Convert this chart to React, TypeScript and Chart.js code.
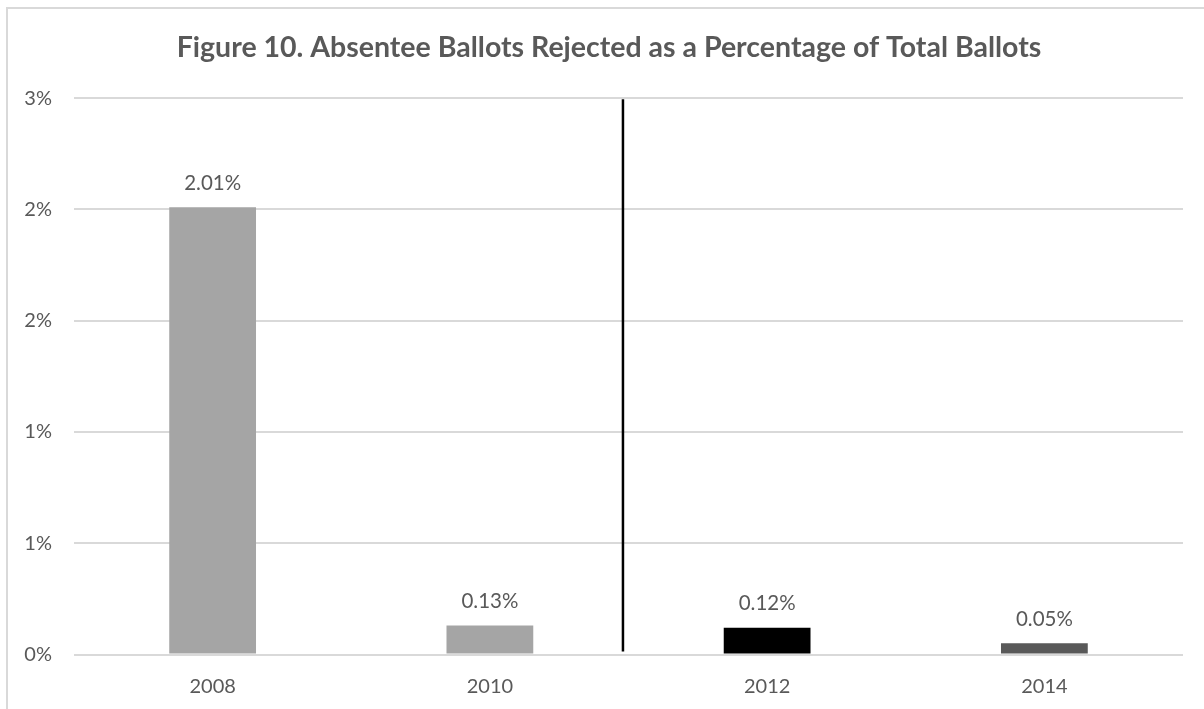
import React, { useEffect, useRef } from 'react';
import { Chart, registerables } from 'chart.js';

Chart.register(...registerables);

const TITLE = 'Figure 10. Absentee Ballots Rejected as a Percentage of Total Ballots';
const YEARS = ['2008', '2010', '2012', '2014'];
const REJECTED_PCT = [2.01, 0.13, 0.12, 0.05];
const BAR_COLORS = ['#A5A5A5', '#A5A5A5', '#000000', '#595959'];
const Y_MIN = 0;
const Y_MAX = 2.5;
const Y_STEP = 0.5;
const SEPARATOR_AT = 1.48; // position on the category axis of the divider line

const TEXT_COLOR = '#595959';
const GRID_COLOR = '#D9D9D9';
const FONT = 'Lato';

const frame = {
  id: 'frame',
  beforeDraw(chart: any) {
    const { ctx, width, height } = chart;
    ctx.save();
    ctx.fillStyle = '#FFFFFF';
    ctx.fillRect(0, 0, width, height);
    ctx.fillStyle = GRID_COLOR;
    ctx.fillRect(6, 7, 2, height);
    ctx.fillRect(6, 7, width, 2);
    ctx.restore();
  },
};

const separator = {
  id: 'separator',
  afterDatasetsDraw(chart: any) {
    const { ctx, chartArea, scales } = chart;
    const x = scales.x.getPixelForValue(SEPARATOR_AT);
    const y0 = scales.y.getPixelForValue(0);
    ctx.save();
    ctx.strokeStyle = '#000000';
    ctx.lineWidth = 2.5;
    ctx.beginPath();
    ctx.moveTo(x, chartArea.top + 1);
    ctx.lineTo(x, y0 - 3);
    ctx.stroke();
    ctx.restore();
  },
};

const valueLabels = {
  id: 'valueLabels',
  afterDatasetsDraw(chart: any) {
    const { ctx } = chart;
    const meta = chart.getDatasetMeta(0);
    const data = chart.data.datasets[0].data as number[];
    ctx.save();
    ctx.fillStyle = TEXT_COLOR;
    ctx.font = `20.5px ${FONT}`;
    ctx.textAlign = 'center';
    ctx.textBaseline = 'middle';
    meta.data.forEach((bar: any, i: number) => {
      ctx.fillText(data[i].toFixed(2) + '%', bar.x, bar.y - 24);
    });
    ctx.restore();
  },
};

export default function App() {
  const ref = useRef<HTMLCanvasElement | null>(null);

  useEffect(() => {
    if (!ref.current) return;
    const chart = new Chart(ref.current, {
      type: 'bar',
      data: {
        labels: YEARS,
        datasets: [
          {
            data: REJECTED_PCT,
            backgroundColor: BAR_COLORS,
            borderWidth: 0,
            categoryPercentage: 1,
            barPercentage: 0.313,
          },
        ],
      },
      options: {
        animation: false,
        responsive: true,
        maintainAspectRatio: false,
        devicePixelRatio: 1,
        layout: { padding: 0 },
        plugins: {
          legend: { display: false },
          tooltip: { enabled: false },
          title: {
            display: true,
            text: TITLE,
            color: TEXT_COLOR,
            font: { family: FONT, size: 28.5, weight: 'bold' },
            lineHeight: 1.2,
            padding: { top: 30.5, bottom: 33.5 },
          },
        },
        scales: {
          x: {
            grid: { display: false },
            border: { display: false },
            ticks: {
              color: TEXT_COLOR,
              font: { family: FONT, size: 20 },
              padding: 12,
            },
            afterFit(scale: any) {
              scale.height = 54.5;
            },
          },
          y: {
            min: Y_MIN,
            max: Y_MAX,
            grid: { color: GRID_COLOR, lineWidth: 2, drawTicks: false },
            border: { display: false },
            ticks: {
              stepSize: Y_STEP,
              color: TEXT_COLOR,
              font: { family: FONT, size: 20 },
              padding: 22,
              callback: (v: any) => Math.round(Number(v)) + '%',
            },
            afterFit(scale: any) {
              scale.width = 74;
            },
          },
          yRightSpace: {
            position: 'right',
            display: true,
            grid: { display: false },
            border: { display: false },
            ticks: { display: false },
            afterFit(scale: any) {
              scale.width = 35;
            },
          },
        },
      },
      plugins: [frame, separator, valueLabels],
    });
    return () => chart.destroy();
  }, []);

  return (
    <div style={{ position: 'fixed', left: 0, top: 0, width: 1204, height: 709, overflow: 'hidden' }}>
      <div style={{ position: 'relative', width: 1218, height: 709 }}>
        <canvas ref={ref} />
      </div>
    </div>
  );
}
